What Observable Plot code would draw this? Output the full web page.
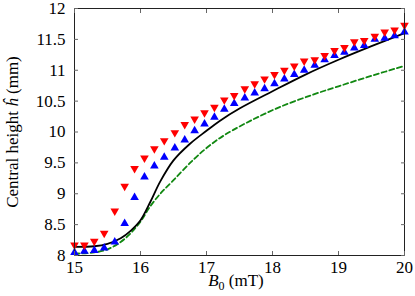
<!DOCTYPE html>
<html><head><meta charset="utf-8">
<script src="https://cdn.jsdelivr.net/npm/d3@7"></script>
<script src="https://cdn.jsdelivr.net/npm/@observablehq/plot@0.6"></script>
<style>
body{margin:0;background:#fff}
</style>
</head><body><div id="chart"></div>
<script>
const markerB = [15.00, 15.15, 15.30, 15.45, 15.61, 15.76, 15.91, 16.06, 16.21, 16.36, 16.52, 16.67, 16.82, 16.97, 17.12, 17.27, 17.42, 17.58, 17.73, 17.88, 18.03, 18.18, 18.33, 18.48, 18.64, 18.79, 18.94, 19.09, 19.24, 19.39, 19.55, 19.70, 19.85, 20.00];
const redH = [8.17, 8.17, 8.23, 8.36, 8.72, 9.12, 9.41, 9.58, 9.73, 9.86, 9.99, 10.12, 10.21, 10.31, 10.40, 10.52, 10.59, 10.70, 10.78, 10.86, 10.93, 11.00, 11.07, 11.15, 11.17, 11.24, 11.32, 11.37, 11.46, 11.48, 11.55, 11.62, 11.65, 11.73];
const blueH = [8.05, 8.07, 8.08, 8.12, 8.22, 8.52, 8.94, 9.27, 9.45, 9.59, 9.74, 9.87, 10.02, 10.13, 10.24, 10.37, 10.46, 10.55, 10.63, 10.70, 10.78, 10.86, 10.93, 11.00, 11.08, 11.17, 11.24, 11.29, 11.36, 11.40, 11.50, 11.52, 11.56, 11.62];
const blackB = [15.0, 15.3, 15.5, 15.7, 15.85, 16.0, 16.15, 16.3, 16.5, 16.75, 17.0, 17.2, 17.5, 18.0, 18.5, 19.0, 19.5, 20.0];
const blackH = [8.14, 8.15, 8.19, 8.28, 8.40, 8.57, 8.87, 9.20, 9.54, 9.81, 10.02, 10.18, 10.38, 10.66, 10.93, 11.17, 11.39, 11.60];
const greenB = [15.0, 15.3, 15.5, 15.7, 15.85, 16.0, 16.15, 16.3, 16.5, 16.8, 17.0, 17.2, 17.4, 17.7, 18.1, 18.6, 19.0, 19.5, 20.0];
const greenH = [8.03, 8.05, 8.10, 8.22, 8.36, 8.55, 8.80, 9.00, 9.22, 9.55, 9.74, 9.90, 10.03, 10.20, 10.40, 10.60, 10.74, 10.91, 11.07];
const xTicks = [15, 16, 17, 18, 19, 20];
const yTicks = [8, 8.5, 9, 9.5, 10, 10.5, 11, 11.5, 12];

const markers = markerB.map((b, i) => ({b, red: redH[i], blue: blueH[i]}));
const black = blackB.map((b, i) => ({b, h: blackH[i]}));
const green = greenB.map((b, i) => ({b, h: greenH[i]}));
const fmt = d => String(d);
const tickStroke = "#666";
const serif = "'Liberation Serif', 'Times New Roman', Tinos, Times, serif";

const chart = Plot.plot({
  width: 415, height: 296,
  marginLeft: 74, marginRight: 11, marginTop: 8, marginBottom: 41,
  x: {domain: [15, 20]},
  y: {domain: [8, 12]},
  style: {fontFamily: serif, fontSize: "17px", color: "black", background: "white"},
  marks: [
    Plot.line(green, {x: "b", y: "h", stroke: "#118811", strokeWidth: 1.8, strokeDasharray: "5,3", curve: "catmull-rom"}),
    Plot.line(black, {x: "b", y: "h", stroke: "black", strokeWidth: 1.8, curve: "catmull-rom"}),
    Plot.dot(markers, {x: "b", y: "blue", symbol: "triangle", fill: "#0000ff", r: 3.2}),
    Plot.dot(markers, {x: "b", y: "red", symbol: "triangle", rotate: 180, fill: "#ff0000", r: 3.2}),
    Plot.frame({stroke: "#222", strokeWidth: 1}),
    Plot.axisX(xTicks, {anchor: "bottom", tickSize: -4, fill: "none", stroke: tickStroke, label: null}),
    Plot.axisX(xTicks, {anchor: "top", tickSize: -4, fill: "none", stroke: tickStroke, label: null}),
    Plot.axisY(yTicks, {anchor: "left", tickSize: -4, fill: "none", stroke: tickStroke, label: null}),
    Plot.axisY(yTicks, {anchor: "right", tickSize: -4, fill: "none", stroke: tickStroke, label: null}),
    Plot.axisX(xTicks, {anchor: "bottom", tickSize: 0, tickPadding: 5, tickFormat: fmt, label: null}),
    Plot.axisY(yTicks, {anchor: "left", tickSize: 0, tickPadding: 9, tickFormat: fmt, label: null})
  ]
});
document.getElementById("chart").appendChild(chart);

const svg = d3.select(chart);
svg.selectAll("text").attr("font-family", serif).style("font-family", serif);

const xt = svg.append("text")
  .attr("x", 236).attr("y", 285.5)
  .attr("text-anchor", "middle")
  .attr("font-family", serif).attr("font-size", 17).attr("fill", "black");
xt.append("tspan").attr("font-style", "italic").text("B");
xt.append("tspan").attr("font-size", 12).attr("dy", 4).text("0");
xt.append("tspan").attr("dy", -4).text(" (mT)");

const yt = svg.append("text")
  .attr("transform", "translate(18,132) rotate(-90)")
  .attr("text-anchor", "middle")
  .attr("font-family", serif).attr("font-size", 17).attr("fill", "black");
yt.append("tspan").text("Central height ");
yt.append("tspan").attr("font-style", "italic").text("ĥ");
yt.append("tspan").text(" (mm)");
</script>
</body></html>
